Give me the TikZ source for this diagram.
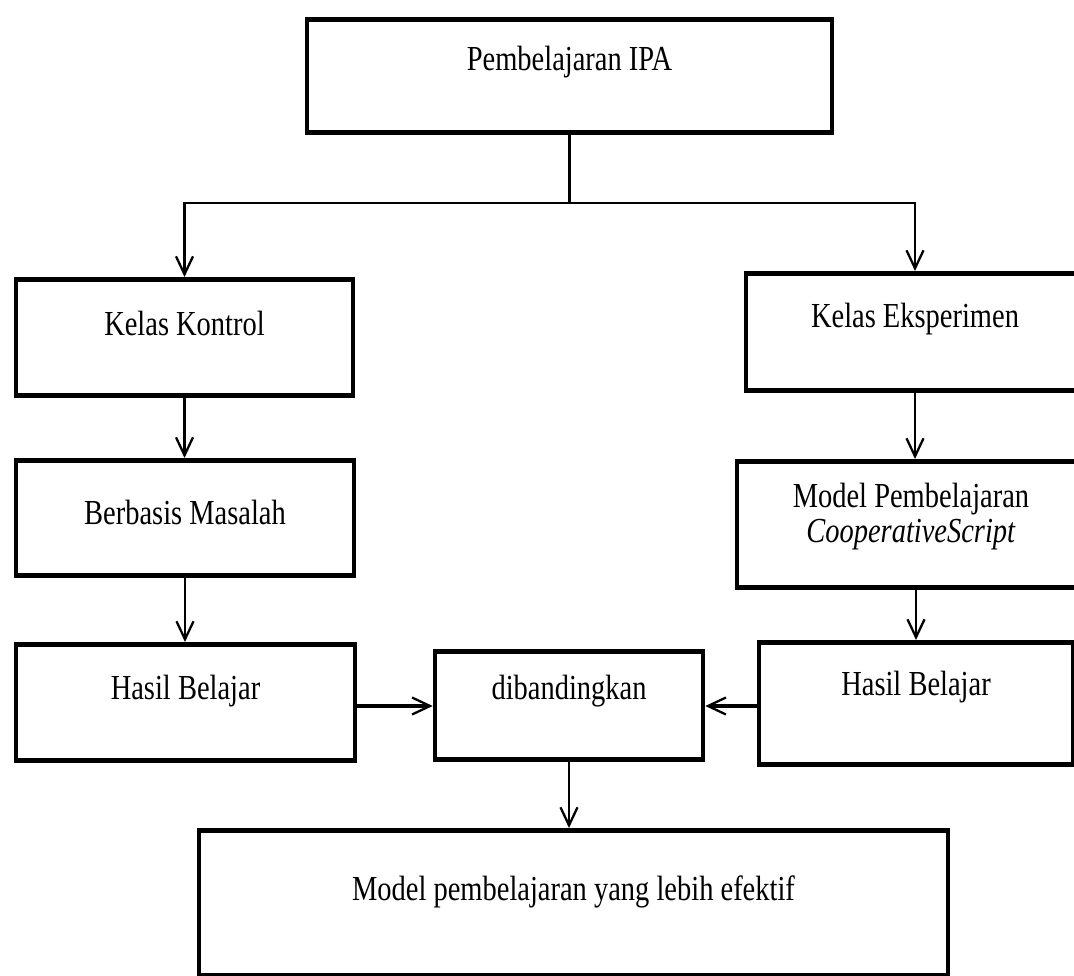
\documentclass[tikz,border=0pt]{standalone}
\usepackage{fontspec}
\setmainfont{Liberation Serif}[FakeStretch=0.81]
\usetikzlibrary{arrows.meta}
\begin{document}
\begin{tikzpicture}[
  box/.style={draw,line width=2.6pt,inner sep=0pt,anchor=north,font=\fontsize{20pt}{20pt}\selectfont},
  arr/.style={line width=1.3pt,-{Straight Barb[length=3.6mm,width=3.4mm,line width=1.3pt]}}]
 \useasboundingbox (0,0) rectangle (21.48,-19.52);
 % boxes
 \node[box,minimum width=10.5cm,text height=1.02cm,text depth=1.24cm] (ipa) at (11.39,-0.34) {Pembelajaran IPA};
 \node[box,minimum width=6.74cm,text height=1.12cm,text depth=1.2cm] (kontrol) at (3.69,-5.54) {Kelas Kontrol};
 \node[box,minimum width=6.76cm,text height=1.08cm,text depth=1.26cm] (eksperimen) at (18.3,-5.42) {Kelas Eksperimen};
 \node[box,minimum width=6.76cm,text height=1.28cm,text depth=1.02cm] (berbasis) at (3.7,-9.16) {Berbasis Masalah};
 \node[box,minimum width=6.96cm,text height=0.92cm,text depth=1.6cm] (model) at (18.22,-9.18)
   {\begin{tabular}[t]{@{}c@{}}Model Pembelajaran\\ \textit{CooperativeScript}\end{tabular}};
 \node[box,minimum width=6.78cm,text height=1.1cm,text depth=1.22cm] (hasilkontrol) at (3.71,-12.84) {Hasil Belajar};
 \node[box,minimum width=5.36cm,text height=0.96cm,text depth=1.2cm] (banding) at (11.38,-12.98) {dibandingkan};
 \node[box,minimum width=6.28cm,text height=1.06cm,text depth=1.38cm] (hasileksp) at (18.32,-12.8) {Hasil Belajar};
 \node[box,minimum width=14.98cm,text height=1.4cm,text depth=1.5cm] (efektif) at (11.47,-16.56) {Model pembelajaran yang lebih efektif};
 % connectors
 \coordinate (split) at (ipa.south |- 0,-4.06);
 \draw[line width=1.3pt] (ipa.south) -- (split);
 \draw[arr] (split) -| (kontrol.north);
 \draw[arr] (split) -| (eksperimen.north);
 \draw[arr] (kontrol.south) -- (kontrol.south |- berbasis.north);
 \draw[arr] (eksperimen.south) -- (eksperimen.south |- model.north);
 \draw[arr] (berbasis.south) -- (berbasis.south |- hasilkontrol.north);
 \draw[arr] (hasileksp.north |- model.south) -- (hasileksp.north);
 \draw[arr,line width=2pt] (hasilkontrol.east |- 0,-14.12) -- (banding.west |- 0,-14.12);
 \draw[arr,line width=2pt] (hasileksp.west |- 0,-14.12) -- (banding.east |- 0,-14.12);
 \draw[arr] (banding.south) -- (banding.south |- efektif.north);
\end{tikzpicture}
\end{document}
